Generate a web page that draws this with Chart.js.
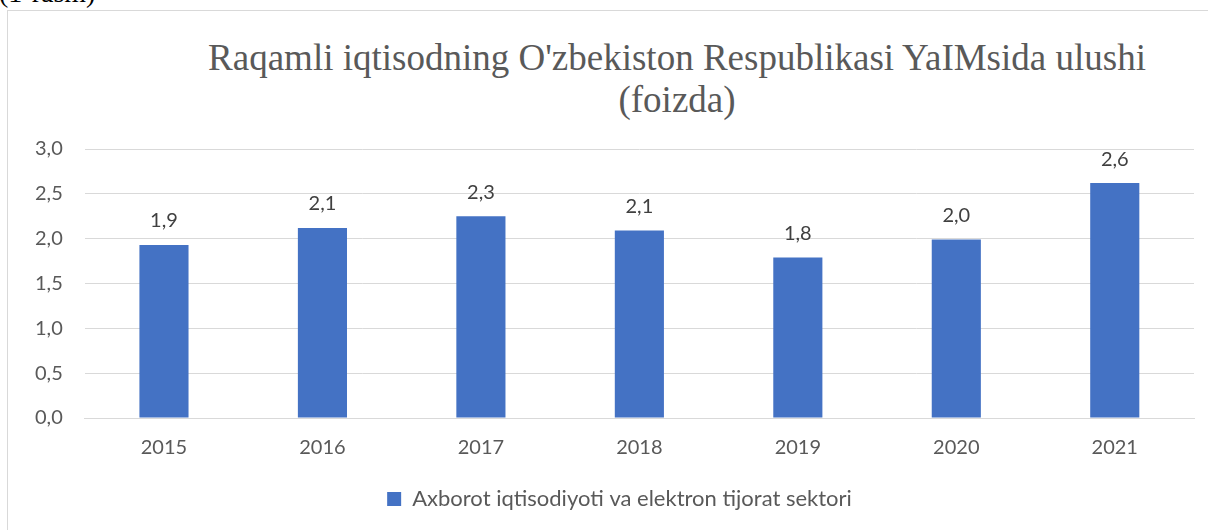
<!DOCTYPE html>
<html>
<head>
<meta charset="utf-8">
<script src="https://cdn.jsdelivr.net/npm/chart.js@4"></script>
<style>
  html, body { margin: 0; padding: 0; background: #fff; overflow: hidden; width: 1208px; height: 530px; }
  #fig { position: absolute; left: -1px; top: -21px; font: 28px/28px "Liberation Serif", serif; color: #000; }
  #frame { position: absolute; left: 7px; top: 10px; width: 1400px; height: 600px; border: 1px solid #d9d9d9; box-sizing: border-box; }
  #title { position: absolute; left: 8px; top: 37px; width: 1338px; text-align: center;
           font: 37px/42px "Liberation Serif", serif; color: #595959; }
  #wrap { position: absolute; left: 8px; top: 10px; width: 1200px; height: 522px; }
</style>
</head>
<body>
<div id="fig">(1-rasm)</div>
<div id="frame"></div>
<div id="title">Raqamli iqtisodning O'zbekiston Respublikasi YaIMsida ulushi<br>(foizda)</div>
<div id="wrap"><canvas id="chart"></canvas></div>
<script>
const years = ['2015', '2016', '2017', '2018', '2019', '2020', '2021'];
const shares = [1.93, 2.12, 2.25, 2.09, 1.79, 1.99, 2.62];
const seriesName = 'Axborot iqtisodiyoti va elektron tijorat sektori';
const yTicks = [0, 0.5, 1.0, 1.5, 2.0, 2.5, 3.0];

const fmt = v => v.toFixed(1).replace('.', ',');
const FONT = 'Lato, "Open Sans", sans-serif';
const SHIFT = 32; // extra left padding so the legend sits right of centre, as in the original

// value labels above the bars, like Excel data labels
const barLabels = {
    id: 'barLabels',
    afterLayout(chart) {
        // give the y axis its label room back (labels are clipped to the axis box)
        chart.scales.y.left -= SHIFT;
    },
    afterDatasetsDraw(chart) {
        const ctx = chart.ctx;
        const meta = chart.getDatasetMeta(0);
        ctx.save();
        ctx.font = '20px ' + FONT;
        ctx.fillStyle = '#404040';
        ctx.textAlign = 'center';
        ctx.textBaseline = 'middle';
        meta.data.forEach((bar, i) => {
            ctx.fillText(fmt(chart.data.datasets[0].data[i]), bar.x, bar.y - 24);
        });
        ctx.restore();
    }
};

new Chart(document.getElementById('chart'), {
    type: 'bar',
    data: {
        labels: years,
        datasets: [{
            label: seriesName,
            data: shares,
            backgroundColor: '#4472C4',
            borderWidth: 0,
            categoryPercentage: 1,
            barPercentage: 0.31
        }]
    },
    options: {
        responsive: true,
        maintainAspectRatio: false,
        animation: false,
        layout: { padding: { top: 139, left: 5 + SHIFT, right: 14, bottom: 12 } },
        plugins: {
            title: { display: false },
            tooltip: { enabled: false },
            legend: {
                position: 'bottom',
                labels: {
                    boxWidth: 14, boxHeight: 14, padding: 10,
                    color: '#595959', font: { family: FONT, size: 22 }
                }
            }
        },
        scales: {
            x: {
                grid: { display: false, drawTicks: false },
                border: { display: true, color: '#d9d9d9' },
                ticks: { color: '#595959', padding: 18, font: { family: FONT, size: 20 } }
            },
            y: {
                min: 0, max: 3,
                afterBuildTicks: axis => { axis.ticks = yTicks.map(v => ({ value: v })); },
                afterFit: axis => { axis.width -= SHIFT; },
                grid: { color: '#d9d9d9', lineWidth: 1, drawTicks: false },
                border: { display: false },
                ticks: { color: '#595959', padding: 22, font: { family: FONT, size: 20 }, callback: v => fmt(v) }
            }
        }
    },
    plugins: [barLabels]
});
</script>
</body>
</html>
